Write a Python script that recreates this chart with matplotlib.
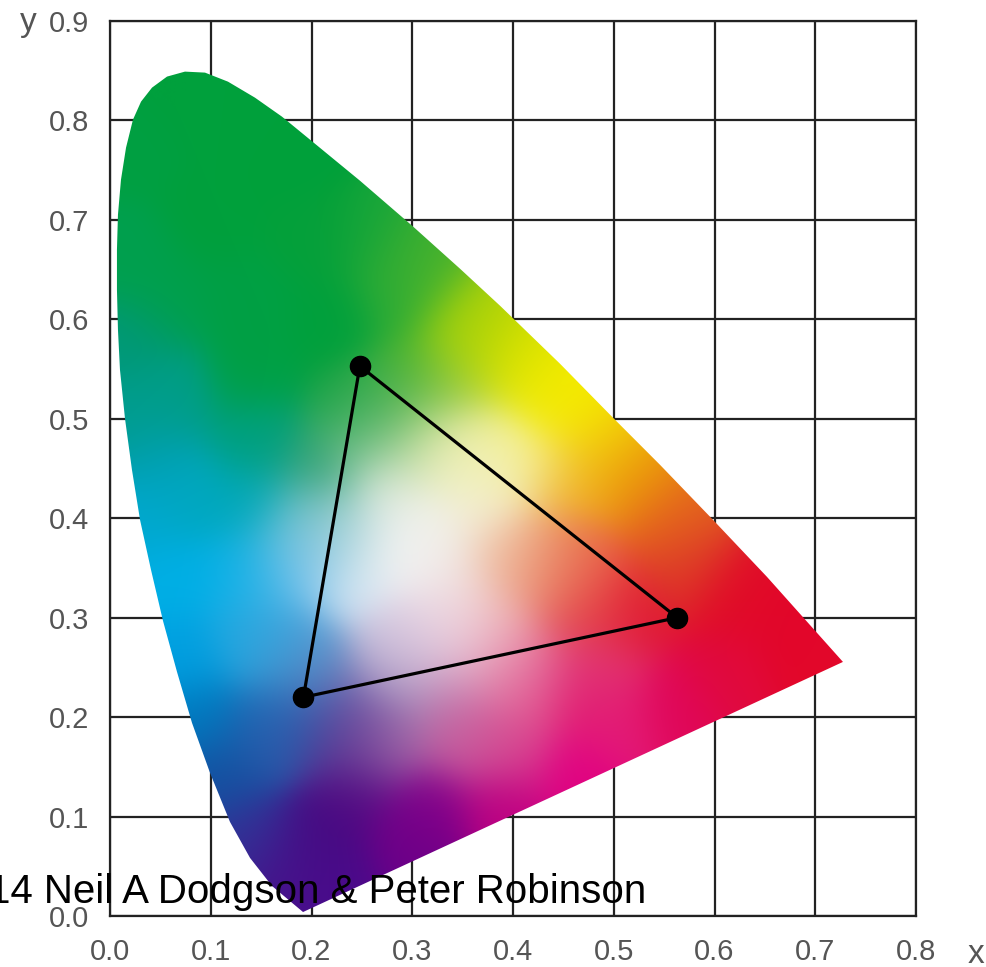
import numpy as np
import matplotlib
matplotlib.use("Agg")
import matplotlib.pyplot as plt
from matplotlib.patches import Polygon
from matplotlib.colors import to_rgb

plt.rcParams["font.family"] = ["Liberation Sans Narrow", "Liberation Sans", "DejaVu Sans"]

# Spectral locus (horseshoe outline), from the violet end round to the red end
locus_x = [0.1916, 0.1608, 0.1390, 0.1191, 0.0993, 0.0814, 0.0665, 0.0526, 0.0407,
           0.0298, 0.0218, 0.0149, 0.0099, 0.0079, 0.0069, 0.0069, 0.0079, 0.0109,
           0.0159, 0.0228, 0.0308, 0.0417, 0.0566, 0.0744, 0.0943, 0.1171, 0.1439,
           0.1707, 0.1985, 0.2481, 0.2998, 0.3474, 0.3871, 0.4467, 0.4993, 0.5459,
           0.5985, 0.6521, 0.7275]
locus_y = [0.0040, 0.0302, 0.0584, 0.0946, 0.1439, 0.1942, 0.2455, 0.2968, 0.3481,
           0.3984, 0.4487, 0.5000, 0.5493, 0.5895, 0.6298, 0.6700, 0.7052, 0.7404,
           0.7726, 0.8008, 0.8189, 0.8330, 0.8441, 0.8491, 0.8481, 0.8390, 0.8229,
           0.8038, 0.7807, 0.7394, 0.6942, 0.6509, 0.6137, 0.5553, 0.5010, 0.4537,
           0.3984, 0.3410, 0.2555]

# Display primaries (red, green, blue)
gamut_names = ["R", "G", "B"]
gamut_x = [0.563, 0.248, 0.192]
gamut_y = [0.300, 0.553, 0.220]

x_ticks = [0.0, 0.1, 0.2, 0.3, 0.4, 0.5, 0.6, 0.7, 0.8]
y_ticks = [0.0, 0.1, 0.2, 0.3, 0.4, 0.5, 0.6, 0.7, 0.8, 0.9]

# Colour tints at chromaticity positions, blended smoothly to shade the diagram
tint_x = [0.02, 0.07, 0.12, 0.18, 0.10, 0.20, 0.26, 0.30, 0.32,
          0.02, 0.06, 0.14, 0.22, 0.29, 0.354, 0.37, 0.02,
          0.142, 0.241, 0.308, 0.357, 0.404, 0.407, 0.447, 0.457, 0.486,
          0.457, 0.519, 0.553, 0.46, 0.569, 0.618, 0.68, 0.72,
          0.46, 0.486, 0.52, 0.61, 0.56, 0.50, 0.457, 0.486, 0.42, 0.41,
          0.463, 0.389, 0.316, 0.30, 0.242, 0.205, 0.22, 0.172, 0.139,
          0.11, 0.089, 0.156, 0.242, 0.205, 0.279, 0.352, 0.40, 0.241,
          0.176, 0.208, 0.275, 0.298, 0.288, 0.34, 0.352, 0.308, 0.34,
          0.387, 0.39, 0.424, 0.454, 0.42, 0.39, 0.337, 0.29, 0.32,
          0.241, 0.192, 0.169, 0.189, 0.126, 0.057, 0.072, 0.142,
          0.04, 0.142, 0.08, 0.142, 0.06, 0.156, 0.19, 0.208, 0.258,
          0.275, 0.34, 0.374, 0.34, 0.37, 0.42, 0.374, 0.308, 0.275,
          0.208, 0.24, 0.015, 0.03]
tint_y = [0.78, 0.83, 0.80, 0.76, 0.70, 0.68, 0.68, 0.66, 0.65,
          0.66, 0.62, 0.62, 0.60, 0.62, 0.603, 0.60, 0.58,
          0.546, 0.512, 0.546, 0.562, 0.57, 0.546, 0.53, 0.512, 0.476,
          0.429, 0.436, 0.395, 0.361, 0.351, 0.318, 0.28, 0.26,
          0.295, 0.318, 0.30, 0.243, 0.21, 0.193, 0.227, 0.25, 0.25, 0.227,
          0.142, 0.108, 0.108, 0.07, 0.125, 0.073, 0.03, 0.041, 0.08,
          0.14, 0.20, 0.18, 0.176, 0.193, 0.176, 0.176, 0.17, 0.21,
          0.21, 0.244, 0.261, 0.268, 0.234, 0.227, 0.268, 0.278, 0.295,
          0.30, 0.261, 0.345, 0.335, 0.368, 0.361, 0.335, 0.361, 0.385,
          0.328, 0.345, 0.278, 0.26, 0.345, 0.34, 0.26, 0.278,
          0.46, 0.411, 0.42, 0.479, 0.52, 0.34, 0.38, 0.446, 0.479,
          0.429, 0.462, 0.479, 0.529, 0.452, 0.452, 0.411, 0.479, 0.512,
          0.395, 0.38, 0.50, 0.40]
tint_hex = ["#00a042", "#00a03c", "#00a03c", "#00a03a", "#00a03c", "#04a03a", "#14a53a", "#38ae32", "#50b42a",
            "#00a04e", "#00a04a", "#00a044", "#00a03c", "#28aa38", "#96cd14", "#bed700", "#009878",
            "#00a044", "#10a040", "#40b030", "#b0d400", "#d7e100", "#e8e800", "#f5eb00", "#f5ec00", "#f2c80a",
            "#f0b020", "#eb960a", "#e4641e", "#e86040", "#dc3c28", "#e10a28", "#e2062a", "#e3082a",
            "#e04050", "#e63c3c", "#e01432", "#e10a3c", "#e0065a", "#e41e78", "#e0106a", "#e13c78", "#e682aa", "#e06096",
            "#e10082", "#be0082", "#82008a", "#6c0088", "#500a82", "#460a82", "#4a0a8c", "#46148c", "#323296",
            "#1450a0", "#0078be", "#285aaa", "#643c96", "#463c96", "#aa6eaa", "#c8609e", "#d84890", "#7050a0",
            "#1878c0", "#6888c0", "#c8c0dc", "#d7c3dc", "#9682b4", "#c070a8", "#ebc8d7", "#e8d8e8", "#f0d8e0",
            "#f0bebe", "#e898b0", "#e89070", "#eb8264", "#f0b48c", "#f0c8b0", "#f0e6e6", "#f4f4f4", "#f0f0eb",
            "#d8e8f4", "#90c8f0", "#3ca4dc", "#5096d2", "#00b0e8", "#00afe6", "#00a0e1", "#20a8e0",
            "#00a0b4", "#00a8b8", "#00a8c0", "#00a080", "#009e88", "#3cb4e6", "#70c0e0", "#30a070", "#90c8a0",
            "#e4ece0", "#f0f0c8", "#f5f090", "#a0cc60", "#f0f0be", "#f5f096", "#f4f0d8", "#c0dc96", "#50b050",
            "#8cc8c8", "#c8e0e4", "#009c8c", "#00a8d0"]

fig = plt.figure(figsize=(9.87, 9.67), dpi=100)
ax = fig.add_axes([110 / 987, 1 - 916 / 967, 806 / 987, 895 / 967])
ax.set_xlim(0, 0.8)
ax.set_ylim(0, 0.9)

# Smoothly shaded colour field (Gaussian-weighted blend of the tints)
tx = np.array(tint_x)
ty = np.array(tint_y)
tc = np.array([to_rgb(h) for h in tint_hex])
nx, ny = 560, 630
gx = np.linspace(0, 0.8, nx)
gy = np.linspace(0.9, 0, ny)
sigma = 0.03
field = np.zeros((ny, nx, 3))
for i in range(0, ny, 60):
    yy = gy[i:i + 60][:, None, None]
    xx = gx[None, :, None]
    d2 = (xx - tx[None, None, :]) ** 2 + (yy - ty[None, None, :]) ** 2
    d2 = d2 - d2.min(axis=2, keepdims=True)
    w = np.exp(-d2 / (2 * sigma ** 2))
    w /= w.sum(axis=2, keepdims=True)
    field[i:i + 60] = np.einsum("abk,kc->abc", w, tc)

outline = Polygon(np.column_stack([locus_x, locus_y]), closed=True,
                  facecolor="none", edgecolor="none")
ax.add_patch(outline)
img = ax.imshow(field, extent=(0, 0.8, 0, 0.9), origin="upper",
                interpolation="bilinear", aspect="auto", zorder=1)
img.set_clip_path(outline)

# Gamut triangle
tri_x = gamut_x + [gamut_x[0]]
tri_y = gamut_y + [gamut_y[0]]
ax.plot(tri_x, tri_y, color="black", lw=2.3, zorder=3, solid_joinstyle="round")
ax.plot(gamut_x, gamut_y, "o", color="black", ms=14.5, zorder=4)

# Grid and frame
ax.set_xticks(x_ticks)
ax.set_yticks(y_ticks)
ax.set_xticklabels([f"{v:.1f}" for v in x_ticks])
ax.set_yticklabels([f"{v:.1f}" for v in y_ticks])
ax.set_axisbelow(True)
ax.grid(True, color="#222222", lw=1.6)
for s in ax.spines.values():
    s.set_color("#222222")
    s.set_linewidth(1.6)
ax.tick_params(axis="both", length=0, labelsize=21, labelcolor="#555555")
ax.tick_params(axis="x", pad=16)
ax.tick_params(axis="y", pad=15)

fig.text(28 / 987, 1 - 31 / 967, "y", fontsize=24, color="#555555",
         ha="center", va="baseline")
fig.text(976 / 987, 1 - 963 / 967, "x", fontsize=24, color="#555555",
         ha="center", va="baseline")

fig.text(-12 / 987, 1 - 903 / 967, "14 Neil A Dodgson & Peter Robinson",
         fontsize=29, family=["Liberation Sans", "DejaVu Sans"], color="black",
         ha="left", va="baseline", zorder=10)

fig.savefig("out.png", dpi=100)
